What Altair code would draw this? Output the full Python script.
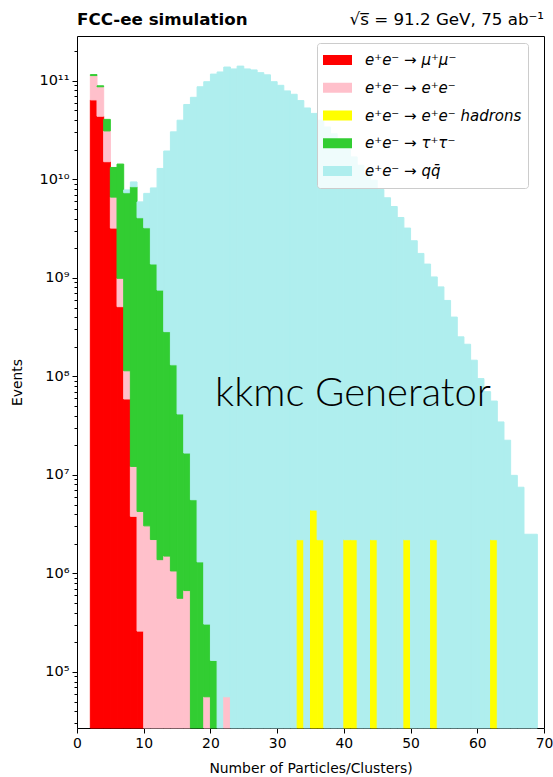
import altair as alt
import pandas as pd

# ---- histogram contents (events per unit-wide bin of particle/cluster multiplicity) ----
N_BINS = 70

SERIES = [
    "e⁺e⁻ → μ⁺μ⁻",
    "e⁺e⁻ → e⁺e⁻",
    "e⁺e⁻ → e⁺e⁻ hadrons",
    "e⁺e⁻ → τ⁺τ⁻",
    "e⁺e⁻ → qq̄",
]
COLORS = ["#ff0000", "#ffc0cb", "#ffff00", "#32cd32", "#afeeee"]

MUMU_FIRST_BIN = 2
MUMU_EVENTS = [6.4e10, 4.37e10, 1.51e10, 3.2e9, 5.1e8, 5.9e7, 3.8e6, 2.6e5]

EE_FIRST_BIN = 2
EE_EVENTS = [4.9e10, 4.33e10, 1.59e10, 3.4e9, 4.8e8, 5.5e7, 8.4e6, 4.0e6,
             3.04e6, 2.21e6, 1.38e6, 1.50e6, 1.06e6, 5.6e5, 6.7e5,
             0, 0, 5.6e4, 0, 0, 5.6e4]

HADRON_BINS = [33, 35, 36, 40, 41, 44, 49, 53, 62]
HADRON_EVENTS = [2.2e6, 4.4e6, 2.2e6, 2.2e6, 2.2e6, 2.2e6, 2.2e6, 2.2e6, 2.2e6]

TAU_FIRST_BIN = 2
TAU_EVENTS = [2.6e9, 2.0e9, 9.6e9, 6.6e9, 1.33e10, 7.2e9, 8.4e9, 4.07e9,
              3.22e9, 1.38e9, 7.5e8, 2.83e8, 1.30e8, 4.1e7, 1.6e7, 5.6e6,
              1.31e6, 2.5e5, 1.31e5]

QQ_FIRST_BIN = 7
QQ_EVENTS = [5.0e8, 1.0e9, 1.83e9, 3.98e9, 6.8e9, 1.215e10, 1.91e10, 3.02e10,
             3.98e10, 5.75e10, 6.8e10, 8.7e10, 9.8e10, 1.17e11, 1.23e11, 1.38e11,
             1.32e11, 1.41e11, 1.32e11, 1.29e11, 1.21e11, 1.15e11, 9.8e10, 9.0e10,
             7.9e10, 7.3e10, 6.3e10, 5.3e10, 4.67e10, 3.98e10, 3.4e10, 2.9e10,
             2.5e10, 2.06e10, 1.69e10, 1.39e10, 1.15e10, 9.8e9, 7.9e9, 6.5e9,
             5.3e9, 4.1e9, 3.2e9, 2.38e9, 1.77e9, 1.38e9, 1.02e9, 8.1e8,
             5.9e8, 4.0e8, 2.52e8, 2.12e8, 1.46e8, 9.5e7, 7.0e7, 5.4e7,
             3.45e7, 2.25e7, 9.9e6, 7.5e6, 2.5e6, 2.5e6]

X_TICKS = list(range(0, 71, 10))
Y_MIN, Y_MAX = 2.7e4, 2.85e11

TITLE_LEFT = "FCC-ee simulation"
TITLE_RIGHT = "√s̅ = 91.2 GeV, 75 ab⁻¹"
GENERATOR = "kkmc Generator"


def per_bin(first, counts):
    out = [0.0] * N_BINS
    for i, n in enumerate(counts):
        out[first + i] = n
    return out


hadrons = [0.0] * N_BINS
for b, n in zip(HADRON_BINS, HADRON_EVENTS):
    hadrons[b] = n

hists = [
    per_bin(MUMU_FIRST_BIN, MUMU_EVENTS),
    per_bin(EE_FIRST_BIN, EE_EVENTS),
    hadrons,
    per_bin(TAU_FIRST_BIN, TAU_EVENTS),
    per_bin(QQ_FIRST_BIN, QQ_EVENTS),
]

# stacked segments, clipped at the lower edge of the log axis
rows = []
for b in range(N_BINS):
    below = 0.0
    for name, counts in zip(SERIES, hists):
        n = counts[b]
        if n <= 0:
            continue
        top = below + n
        if top > Y_MIN:
            rows.append({"series": name, "x0": b, "x1": b + 1,
                         "lo": max(below, Y_MIN), "hi": top})
        below = top
df = pd.DataFrame(rows)

# log axis: labelled decades plus unlabelled minor ticks
SUP = str.maketrans("0123456789", "⁰¹²³⁴⁵⁶⁷⁸⁹")
y_ticks = sorted([10.0 ** k for k in range(5, 12)] +
                 [m * 10.0 ** k for k in range(4, 12) for m in range(2, 10)
                  if Y_MIN <= m * 10.0 ** k <= Y_MAX])
expo = "round(log(datum.value)/LN10)"
is_decade = f"abs(log(datum.value)/LN10 - {expo}) < 1e-6"
label_chain = "''"
for k in range(11, 4, -1):
    label_chain = f"{expo} == {k} ? '10{str(k).translate(SUP)}' : ({label_chain})"
y_label_expr = f"{is_decade} ? ({label_chain}) : ''"

FS = 13.9
x_scale = alt.Scale(domain=[0, 70], nice=False, zero=False)
y_scale = alt.Scale(type="log", domain=[Y_MIN, Y_MAX], nice=False)
c_scale = alt.Scale(domain=SERIES, range=COLORS)

x_axis = alt.Axis(values=X_TICKS, format="d", grid=False, domain=False,
                  tickSize=5, tickColor="black", labelColor="black",
                  labelFontSize=FS, labelFlush=False, labelPadding=3,
                  title="Number of Particles/Clusters)", titleFontSize=FS,
                  titleFontWeight="normal", titleColor="black",
                  titleY=40, titleBaseline="middle")
y_axis = alt.Axis(values=y_ticks, labelExpr=y_label_expr, labelOverlap=False,
                  grid=False, domain=False, tickColor="black",
                  tickSize={"condition": {"test": is_decade, "value": 5}, "value": 3},
                  labelColor="black", labelFontSize=14.5, labelPadding=3,
                  title="Events", titleFontSize=FS, titleFontWeight="normal",
                  titleColor="black", titleX=-60, titleY=346,
                  titleAlign="center", titleBaseline="middle")

legend = alt.Legend(title=None, orient="none", legendX=240, legendY=7,
                    fillColor="rgba(255,255,255,0.8)", strokeColor="#cccccc",
                    cornerRadius=3, padding=6,
                    symbolType="M-1,-0.345H1V0.345H-1Z", symbolSize=841,
                    symbolStrokeWidth=0, symbolOpacity=1,
                    labelFont="DejaVu Sans", labelFontSize=15,
                    labelFontStyle="italic", labelColor="black",
                    labelOffset=13, labelLimit=400,
                    clipHeight=22, rowPadding=5.75)

bars = alt.Chart(df).mark_bar(strokeWidth=1, strokeJoin="miter").encode(
    x=alt.X("x0:Q", scale=x_scale, axis=x_axis),
    x2="x1:Q",
    y=alt.Y("hi:Q", scale=y_scale, axis=y_axis),
    y2="lo:Q",
    color=alt.Color("series:N", scale=c_scale, legend=legend, sort=SERIES),
    stroke=alt.Stroke("series:N", scale=c_scale, legend=None),
)

note = alt.Chart(pd.DataFrame({"label": [GENERATOR]})).mark_text(
    align="left", baseline="alphabetic", font="Lato", fontSize=40,
    fontWeight=300, color="black"
).encode(x=alt.datum(20.7), y=alt.datum(5e7), text="label:N")

head_left = alt.Chart(pd.DataFrame({"t": [TITLE_LEFT]})).mark_text(
    align="left", baseline="alphabetic", font="DejaVu Sans", fontSize=16.7,
    fontWeight="bold", color="black"
).encode(x=alt.value(0), y=alt.value(-11), text="t:N")

head_right = alt.Chart(pd.DataFrame({"t": [TITLE_RIGHT]})).mark_text(
    align="right", baseline="alphabetic", font="DejaVu Sans", fontSize=16.7,
    color="black"
).encode(x=alt.value(467), y=alt.value(-11), text="t:N")

chart = alt.layer(bars, note, head_left, head_right).properties(
    width=467, height=692,
    autosize=alt.AutoSizeParams(type="none"),
    padding={"left": 77, "top": 36, "right": 9, "bottom": 49},
    background="white",
).configure(font="DejaVu Sans").configure_view(stroke="black", strokeWidth=1)

chart.save("out.html", embed_options={"renderer": "svg", "actions": False})
